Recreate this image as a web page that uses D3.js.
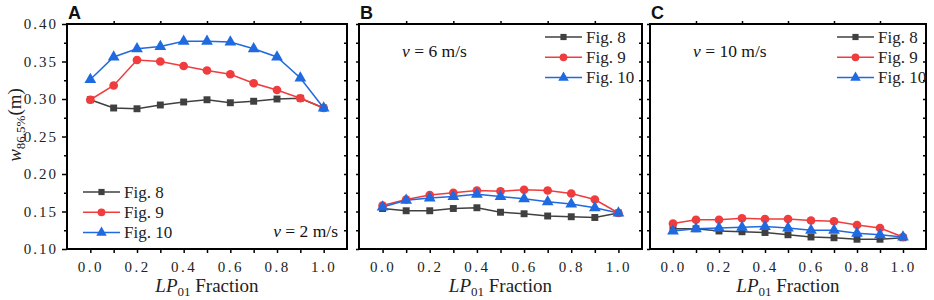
<!DOCTYPE html>
<html><head><meta charset="utf-8">
<script src="https://cdn.jsdelivr.net/npm/d3@7"></script>
<style>
body{margin:0;background:#fff;}
</style></head>
<body><svg id="chart" width="934" height="300" font-family="'Liberation Serif', 'Times New Roman', serif"></svg>
<script>
const fractions = [0.0,0.1,0.2,0.3,0.4,0.5,0.6,0.7,0.8,0.9,1.0];
const seriesNames = ["Fig. 8","Fig. 9","Fig. 10"];
const seriesColors = ["#404040","#f03c3c","#1f6ae0"];
const seriesShapes = ["square","circle","triangle"];
const panelLetters = ["A","B","C"];
const panelSpeeds = ["2","6","10"];
const xTickLabels = ["0.0","0.2","0.4","0.6","0.8","1.0"];
const yTickLabels = ["0.10","0.15","0.20","0.25","0.30","0.35","0.40"];

// Panel A (v = 2 m/s)
const a_fig8  = [0.299,0.288,0.287,0.292,0.296,0.299,0.295,0.297,0.300,0.301,0.288];
const a_fig9  = [0.299,0.318,0.352,0.350,0.344,0.338,0.333,0.321,0.312,0.301,0.288];
const a_fig10 = [0.326,0.356,0.367,0.370,0.377,0.377,0.376,0.367,0.356,0.328,0.288];
// Panel B (v = 6 m/s)
const b_fig8  = [0.154,0.151,0.151,0.154,0.155,0.149,0.147,0.144,0.143,0.142,0.148];
const b_fig9  = [0.158,0.166,0.172,0.175,0.178,0.177,0.179,0.178,0.174,0.166,0.148];
const b_fig10 = [0.156,0.165,0.168,0.170,0.173,0.170,0.167,0.163,0.160,0.155,0.148];
// Panel C (v = 10 m/s)
const c_fig8  = [0.127,0.127,0.124,0.123,0.122,0.119,0.116,0.115,0.113,0.113,0.115];
const c_fig9  = [0.134,0.139,0.139,0.141,0.140,0.140,0.138,0.137,0.132,0.128,0.116];
const c_fig10 = [0.124,0.127,0.128,0.129,0.130,0.128,0.125,0.125,0.121,0.119,0.116];

const panelData = [[a_fig8,a_fig9,a_fig10],[b_fig8,b_fig9,b_fig10],[c_fig8,c_fig9,c_fig10]];
const panelBoxes = [{x0:67,x1:347},{x0:359,x1:642},{x0:650,x1:926}];
const yTop = 24, yBot = 249;
const SERIF = "'Liberation Serif', 'Times New Roman', serif";

const svg = d3.select("#chart");
const symType = {square:d3.symbolSquare, circle:d3.symbolCircle, triangle:d3.symbolTriangle};
const symSize = {square:48, circle:60, triangle:60};

panelBoxes.forEach((box,pi)=>{
  const x = d3.scaleLinear().domain([-0.1,1.1]).range([box.x0,box.x1]);
  const y = d3.scaleLinear().domain([0.10,0.40]).range([yBot,yTop]);
  const g = svg.append("g");

  g.append("rect").attr("x",box.x0).attr("y",yTop).attr("width",box.x1-box.x0).attr("height",yBot-yTop)
    .attr("fill","none").attr("stroke","#000").attr("stroke-width",2);

  const yMinor = d3.range(0.10,0.4001,0.025);
  const leftAx = d3.axisLeft(y).tickValues(yMinor).tickSizeOuter(0)
    .tickSize(pi===0?5:3).tickFormat((d,i)=> (pi===0 && i%2===0) ? yTickLabels[i/2] : "");
  const la = g.append("g").attr("transform",`translate(${box.x0},0)`).call(leftAx);
  la.attr("font-family",SERIF);
  la.select(".domain").remove();
  la.selectAll("line").attr("stroke-width",1.5).attr("x2",(d,i)=> pi===0 ? (i%2===0?-5:-3) : -3);
  la.selectAll("text").attr("font-size",15).attr("letter-spacing",2).attr("fill","#222").attr("dx",-1);

  const ra = g.append("g").attr("transform",`translate(${box.x1},0)`)
    .call(d3.axisRight(y).tickValues(yMinor.slice(1,-1)).tickSize(-3).tickFormat(""));
  ra.select(".domain").remove();
  ra.selectAll("line").attr("stroke-width",1.5);

  const xt = d3.range(0,1.0001,0.1);
  const ba = g.append("g").attr("transform",`translate(0,${yBot})`)
    .call(d3.axisBottom(x).tickValues(xt).tickSize(4).tickPadding(8)
      .tickFormat((d,i)=> i%2===0 ? xTickLabels[i/2] : ""));
  ba.attr("font-family",SERIF);
  ba.select(".domain").remove();
  ba.selectAll("line").attr("stroke-width",1.5);
  ba.selectAll("text").attr("font-size",15).attr("letter-spacing",2.5).attr("fill","#222");

  const ta = g.append("g").attr("transform",`translate(0,${yTop})`)
    .call(d3.axisTop(x).tickValues([0.1,0.3,0.5,0.7,0.9]).tickSize(3).tickFormat(""));
  ta.select(".domain").remove();
  ta.selectAll("line").attr("stroke-width",1.5);

  const cx = (box.x0+box.x1)/2;
  const xt_ = g.append("text").attr("x",cx).attr("y",292).attr("text-anchor","middle")
    .attr("font-size",19).attr("fill","#222").attr("font-family",SERIF);
  xt_.append("tspan").attr("font-style","italic").text("LP");
  xt_.append("tspan").attr("font-size",13).attr("dy",4).text("01");
  xt_.append("tspan").attr("dy",-4).text(" Fraction");

  g.append("text").attr("x",box.x0+1).attr("y",19)
    .style("font-family","'Liberation Sans', Arial, sans-serif")
    .attr("font-weight","bold").attr("font-size",18).attr("fill","#111").text(panelLetters[pi]);

  panelData[pi].forEach((vals,si)=>{
    const line = d3.line().x((d,i)=>x(fractions[i])).y(d=>y(d));
    g.append("path").datum(vals).attr("d",line).attr("fill","none")
      .attr("stroke",seriesColors[si]).attr("stroke-width",1.5);
  });
  panelData[pi].forEach((vals,si)=>{
    const sym = d3.symbol().type(symType[seriesShapes[si]]).size(symSize[seriesShapes[si]]);
    g.selectAll(null).data(vals).enter().append("path").attr("d",sym)
      .attr("transform",(d,i)=>`translate(${x(fractions[i])},${y(d)})`)
      .attr("fill",seriesColors[si]);
  });

  let lx, ly0;
  if (pi===0){ lx = 83; ly0 = 192; } else if (pi===1){ lx = 545; ly0 = 37; } else { lx = 837; ly0 = 37; }
  seriesNames.forEach((nm,si)=>{
    const ly = ly0 + si*20.3;
    g.append("line").attr("x1",lx).attr("x2",lx+37).attr("y1",ly).attr("y2",ly)
      .attr("stroke",seriesColors[si]).attr("stroke-width",1.5);
    g.append("path").attr("d",d3.symbol().type(symType[seriesShapes[si]]).size(symSize[seriesShapes[si]]*0.8)())
      .attr("transform",`translate(${lx+18.5},${ly})`).attr("fill",seriesColors[si]);
    g.append("text").attr("x",lx+41).attr("y",ly+5.5).attr("font-size",17).attr("fill","#222")
      .attr("font-family",SERIF).text(nm);
  });

  const st = g.append("text").attr("font-size",17.5).attr("fill","#111").attr("font-family",SERIF);
  if (pi===0){ st.attr("x",338).attr("y",237).attr("text-anchor","end"); }
  else if (pi===1){ st.attr("x",402).attr("y",57); }
  else { st.attr("x",693).attr("y",57); }
  st.append("tspan").attr("font-style","italic").text("v");
  st.append("tspan").text(" = " + panelSpeeds[pi] + " m/s");
});

const yl = svg.append("text").attr("transform","translate(21,125) rotate(-90)")
  .attr("text-anchor","middle").attr("font-size",19).attr("fill","#222").attr("font-family",SERIF);
yl.append("tspan").attr("font-style","italic").text("w");
yl.append("tspan").attr("font-size",13).attr("dy",4).text("86.5%");
yl.append("tspan").attr("dy",-4).text("(m)");
</script></body></html>
